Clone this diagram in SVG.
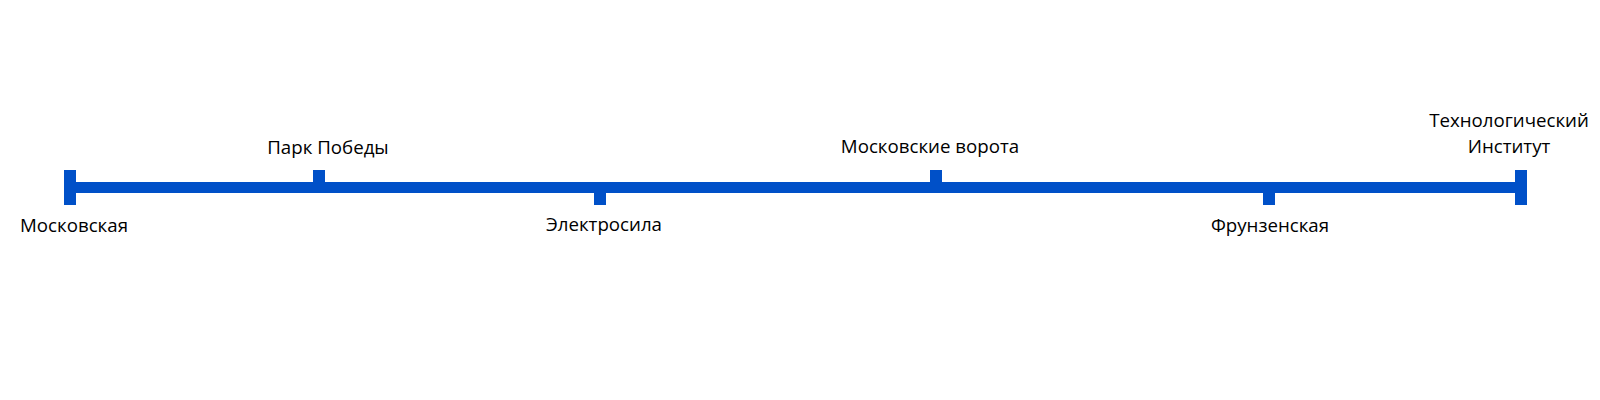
<svg xmlns="http://www.w3.org/2000/svg" width="1600" height="400" viewBox="0 0 1600 400">
<style>
.line{fill:#0050C8}
.tick{fill:#0050C8}
.lbl{font-family:"Open Sans","Noto Sans","Liberation Sans",sans-serif;font-size:18.7px;fill:#000;text-anchor:middle}
</style>
<rect x="0" y="0" width="1600" height="400" fill="#fff"/>
<g id="connectors">
<rect class="line" x="70" y="182" width="1451" height="11"/>
</g>
<g id="moskovskaya">
<rect class="tick" x="64" y="170" width="12" height="35"/>
<text class="lbl" x="74" y="232">Московская</text>
</g>
<g id="park-pobedy">
<rect class="tick" x="313" y="170" width="12" height="13"/>
<text class="lbl" x="328" y="154">Парк Победы</text>
</g>
<g id="elektrosila">
<rect class="tick" x="594" y="192" width="12" height="13"/>
<text class="lbl" x="604" y="231">Электросила</text>
</g>
<g id="moskovskie-vorota">
<rect class="tick" x="930" y="170" width="12" height="13"/>
<text class="lbl" x="930" y="153">Московские ворота</text>
</g>
<g id="frunzenskaya">
<rect class="tick" x="1263" y="192" width="12" height="13"/>
<text class="lbl" x="1270" y="232">Фрунзенская</text>
</g>
<g id="tekhnologichesky-institut">
<rect class="tick" x="1515" y="170" width="12" height="35"/>
<text class="lbl" x="1509" y="127">Технологический</text>
<text class="lbl" x="1509" y="153">Институт</text>
</g>
</svg>
